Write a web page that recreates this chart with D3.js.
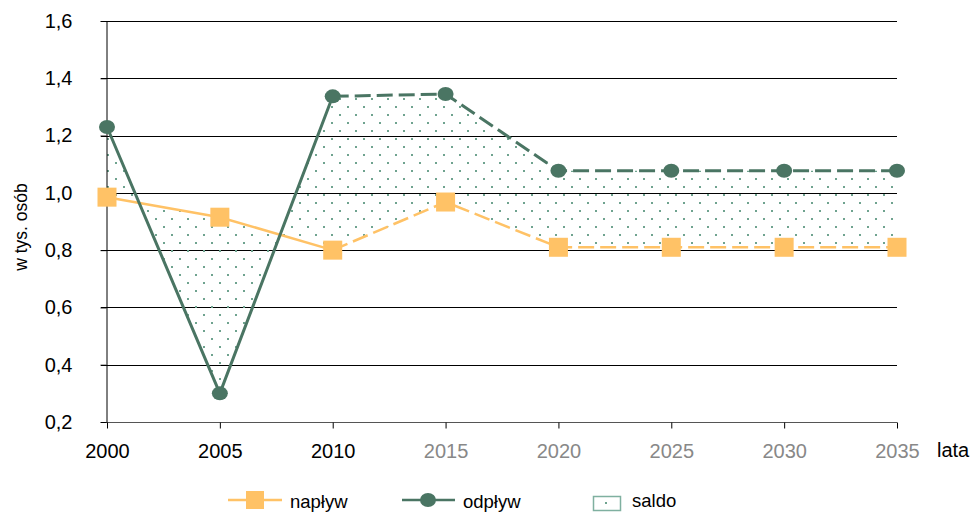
<!DOCTYPE html>
<html>
<head>
<meta charset="utf-8">
<script src="https://cdn.jsdelivr.net/npm/d3@7"></script>
<style>
  body { margin: 0; background: #fff; }
  text { font-family: "Liberation Sans", Arial, sans-serif; }
</style>
</head>
<body>
<script>
const years = [2000, 2005, 2010, 2015, 2020, 2025, 2030, 2035]
const naplyw = [0.985, 0.915, 0.80, 0.968, 0.81, 0.81, 0.81, 0.81]
const odplyw = [1.23, 0.30, 1.337, 1.345, 1.077, 1.077, 1.077, 1.077]
const yTicks = [0.2, 0.4, 0.6, 0.8, 1.0, 1.2, 1.4, 1.6]
const greyYears = [2015, 2020, 2025, 2030, 2035]
// segments from this index on are drawn dashed
const dashFrom = 2

const m = { width: 972, height: 512 }
const orange = '#ffc266'
const green = '#4a7563'
const dotColor = '#6fa38f'

const svg = d3.select('body').append('svg')
    .attr('width', m.width)
    .attr('height', m.height)

const x = d3.scalePoint().domain(years).range([107, 897])
const y = d3.scaleLinear().domain([0.2, 1.6]).range([422, 21])

// dot pattern for saldo
const defs = svg.append('defs')
const pat = defs.append('pattern')
    .attr('id', 'dots')
    .attr('patternUnits', 'userSpaceOnUse')
    .attr('width', 16)
    .attr('height', 16)
pat.append('rect').attr('x', 3).attr('y', 2).attr('width', 2).attr('height', 2).attr('fill', dotColor)
pat.append('rect').attr('x', 11).attr('y', 10).attr('width', 2).attr('height', 2).attr('fill', dotColor)

// gridlines
svg.append('g').selectAll('line')
    .data(yTicks.slice(1))
    .enter()
    .append('line')
    .attr('x1', 101).attr('x2', 897)
    .attr('y1', d => Math.round(y(d)) + 0.5)
    .attr('y2', d => Math.round(y(d)) + 0.5)
    .attr('stroke', '#000')
    .attr('stroke-width', 1)

// saldo area
const rows = years.map((d, i) => ({ year: d, n: naplyw[i], o: odplyw[i] }))
svg.append('path')
    .datum(rows)
    .attr('d', d3.area().x(d => x(d.year)).y0(d => y(d.n)).y1(d => y(d.o)))
    .attr('fill', 'url(#dots)')

// axes
const xAxis = svg.append('g')
    .attr('transform', 'translate(0,' + (Math.round(y(0.2)) + 0.5) + ')')
    .call(d3.axisBottom(x).tickSize(6).tickSizeOuter(0).tickPadding(15))
xAxis.select('.domain').attr('stroke', '#555').attr('d', 'M101,0H897')
xAxis.selectAll('line').attr('stroke', '#000')
xAxis.selectAll('text')
    .style('font-size', '20px')
    .attr('fill', d => greyYears.includes(d) ? '#888' : '#000')

const yAxis = svg.append('g')
    .attr('transform', 'translate(106.5,0)')
    .call(d3.axisLeft(y).tickValues(yTicks).tickSize(6).tickSizeOuter(0).tickPadding(28)
        .tickFormat(d => d3.format('.1f')(d).replace('.', ',')))
yAxis.select('.domain').attr('stroke', '#000')
yAxis.selectAll('line').attr('stroke', '#000')
yAxis.selectAll('text').style('font-size', '20px').attr('fill', '#000')

svg.append('text')
    .attr('x', 937).attr('y', 457)
    .style('font-size', '20px')
    .text('lata')

svg.append('text')
    .attr('transform', 'translate(27,227) rotate(-90)')
    .attr('text-anchor', 'middle')
    .style('font-size', '17.5px')
    .text('w tys. osób')

// lines, split into solid and dashed parts
function drawSeries(vals, color, width) {
    const pts = years.map((d, i) => [x(d), y(vals[i])])
    const line = d3.line()
    svg.append('path')
        .attr('d', line(pts.slice(0, dashFrom + 1)))
        .attr('fill', 'none').attr('stroke', color).attr('stroke-width', width)
    svg.append('path')
        .attr('d', line(pts.slice(dashFrom)))
        .attr('fill', 'none').attr('stroke', color).attr('stroke-width', width)
        .attr('stroke-dasharray', '16,6')
}
drawSeries(naplyw, orange, 2.5)
drawSeries(odplyw, green, 3)

svg.append('g').selectAll('rect')
    .data(naplyw)
    .enter()
    .append('rect')
    .attr('x', (d, i) => x(years[i]) - 9.5)
    .attr('y', d => y(d) - 9.5)
    .attr('width', 19).attr('height', 19)
    .attr('fill', orange)

svg.append('g').selectAll('ellipse')
    .data(odplyw)
    .enter()
    .append('ellipse')
    .attr('cx', (d, i) => x(years[i]))
    .attr('cy', d => y(d))
    .attr('rx', 8).attr('ry', 7)
    .attr('fill', green)

// legend
const leg = svg.append('g')
leg.append('line').attr('x1', 228).attr('x2', 282).attr('y1', 500).attr('y2', 500)
    .attr('stroke', orange).attr('stroke-width', 2.5)
leg.append('rect').attr('x', 246).attr('y', 491).attr('width', 18).attr('height', 18).attr('fill', orange)
leg.append('text').attr('x', 290).attr('y', 508).style('font-size', '18.5px').text('napływ')

leg.append('line').attr('x1', 402).attr('x2', 455).attr('y1', 500).attr('y2', 500)
    .attr('stroke', green).attr('stroke-width', 2.5)
leg.append('ellipse').attr('cx', 428).attr('cy', 500).attr('rx', 8).attr('ry', 7).attr('fill', green)
leg.append('text').attr('x', 463).attr('y', 508).style('font-size', '18.5px').text('odpływ')

leg.append('rect').attr('x', 593.5).attr('y', 496.5).attr('width', 27).attr('height', 14)
    .attr('fill', '#fff').attr('stroke', '#7fb0a0').attr('stroke-width', 1.5)
leg.append('rect').attr('x', 605).attr('y', 502).attr('width', 2).attr('height', 2).attr('fill', dotColor)
leg.append('text').attr('x', 632).attr('y', 507).style('font-size', '18.5px').text('saldo')
</script>
</body>
</html>
